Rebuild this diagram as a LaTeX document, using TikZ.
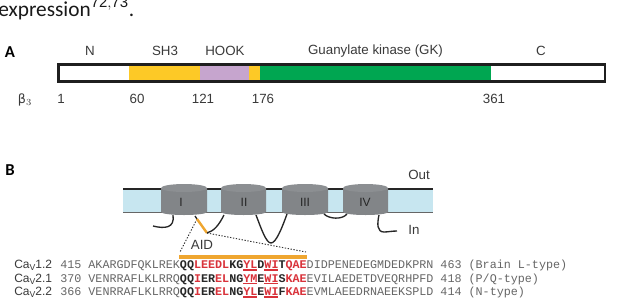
\documentclass[tikz,border=0pt]{standalone}
\usepackage{fontspec}
\setmainfont{Liberation Sans}
\newfontfamily\bodyfont{Carlito}
\newfontfamily\seqfont{Liberation Mono}
\definecolor{labelgrey}{HTML}{3A3A3A}
\definecolor{seqgrey}{HTML}{666666}
\definecolor{seqred}{HTML}{D9323A}
\definecolor{seqdark}{HTML}{262626}
\definecolor{sh3}{HTML}{FDC926}
\definecolor{hook}{HTML}{C6A5CE}
\definecolor{gk}{HTML}{00A651}
\definecolor{membrane}{HTML}{C7E6F0}
\definecolor{barrel}{HTML}{828588}
\definecolor{barreltop}{HTML}{8C8F92}
\definecolor{aid}{HTML}{EFA630}
\newcommand{\px}[1]{\fontsize{#1}{#1}\selectfont}
\newcommand{\gr}[1]{\textcolor{seqgrey}{#1}}
\newcommand{\rd}[1]{\textcolor{seqred}{\bfseries #1}}
\newcommand{\bk}[1]{\textcolor{seqdark}{\bfseries #1}}
\tikzset{
  x=0.75pt,y=-0.75pt,
  lbl/.style={font=\px{10}, text=labelgrey, inner sep=0pt, anchor=center},
  panel/.style={font=\bodyfont\bfseries\px{12.5}, inner sep=0pt},
  seqline/.style={font=\seqfont\px{8.8}, inner sep=0pt, anchor=base west},
  calabel/.style={font=\px{9}, text=labelgrey, inner sep=0pt, anchor=base west},
  loop/.style={draw=black!85, line width=1pt},
  dots/.style={draw=black!80, line width=0.7pt, dash pattern=on 1pt off 1.2pt},
  seqmark/.style={draw=seqred, line width=0.8pt},
}
\newcommand{\barrel}[5]{% x-left, x-right, name, label x, label
  \fill[barrel] (#1,188) -- (#2,188) -- (#2,212) arc[x radius={(#2-#1)/2}, y radius=3, start angle=0, end angle=180] -- cycle;
  \fill[barreltop] (#1,188) arc[x radius={(#2-#1)/2}, y radius=4, start angle=180, end angle=0] arc[x radius={(#2-#1)/2}, y radius=4, start angle=0, end angle=-180] -- cycle;
  \node[lbl, font=\px{9}, text=black!85] (#3) at (#4,202) {#5};
}
\begin{document}
\begin{tikzpicture}
\useasboundingbox (0,0) rectangle (620,304);
\fill[white] (0,0) rectangle (620,304);

% running text above the figure
\begin{scope}
\clip (0,0) rectangle (620,304);
\node[font=\bodyfont\px{16}, anchor=base west, inner sep=0pt, text=black!90] (running) at (-2,16) {expression$^{\mathrm{72,73}}$.};
\end{scope}

% panel A: domain map
\node[panel] (pa) at (10,52) {A};
\fill[sh3] (129,64) rectangle (260,82);
\fill[hook] (200,64) rectangle (249,82);
\fill[gk] (260,64) rectangle (491,82);
\draw[black!88, line width=2.2pt] (58.5,64.5) rectangle (605,81.5);
\foreach \n/\x/\t in {dn/90/N, ds/165/SH3, dh/225/HOOK, dg/375.5/Guanylate kinase (GK), dc/541/C}
  \node[lbl] (\n) at (\x,51) {\t};
\node[lbl] (beta) at (25,100) {\fontspec{DejaVu Sans}\px{9.5}β$_{3}$};
\foreach \n/\x/\t in {a1/61/1, a60/137/60, a121/203/121, a176/263/176, a361/494/361}
  \node[lbl] (\n) at (\x,99) {\t};

% panel B: membrane topology
\node[panel] (pb) at (10,170) {B};
\fill[membrane] (123,189) rectangle (433,212);
\draw[black!85, line width=1.4pt] (123,189) -- (433,189);
\draw[black!60, line width=1pt] (123,212.5) -- (433,212.5);
\barrel{161}{207}{d1}{181}{I}
\barrel{221}{266}{d2}{244}{II}
\barrel{282}{328}{d3}{305}{III}
\barrel{343}{388}{d4}{365}{IV}
\node[lbl] (out) at (419,175) {Out};
\node[lbl] (in) at (414,230) {In};

\coordinate (aidtop) at (195,216);
\coordinate (aidend) at (207,233);
\coordinate (barl) at (179,256.5);
\coordinate (barr) at (307,256.5);
\draw[loop] (153,226) .. controls (165,229) and (175,228) .. (173,215);
\draw[loop] (aidtop) -- (197,219);
\draw[dots] (197,219) -- (180,252);
\draw[dots] (aidend) -- (306,252);
\draw[aid, line width=1.8pt] (197,219) -- (aidend);
\draw[loop] (aidend) .. controls (214,231) and (219,225) .. (224,215);
\draw[loop] (256,215) .. controls (261,228) and (266,243) .. (271,243) .. controls (276,243) and (282,228) .. (287,214);
\draw[loop] (324,214) .. controls (329,219) and (342,220) .. (347,214);
\draw[loop] (379,215) .. controls (377,224) and (377,232) .. (384,232) .. controls (388,232) and (392,231) .. (397,231);
\node[lbl] (aidlabel) at (202,245) {AID};
\draw[aid, line width=3pt] (barl) -- (barr);

% panel B: sequence alignment
\foreach \n/\y/\t in {c1/264/1.2, c2/278/2.1, c3/291/2.2}
  \node[calabel] (\n) at (14,\y+4) {Ca\raisebox{-0.45ex}{\px{6.5}V}\t};
\node[seqline] (s1) at (60,268) {\gr{415 AKARGDFQKLREK}\bk{QQ}\rd{LEEDL}\bk{KG}\rd{YL}\bk{D}\rd{WI}\bk{T}\rd{QAE}\gr{DIDPENEDEGMDEDKPRN  463 (Brain L-type)}};
\node[seqline] (s2) at (60,282) {\gr{370 VENRRAFLKLRRQ}\bk{QQ}\rd{I}\bk{ER}\rd{EL}\bk{NG}\rd{YM}\bk{E}\rd{WI}\bk{S}\rd{KAE}\gr{EVILAEDETDVEQRHPFD  418 (P/Q-type)}};
\node[seqline] (s3) at (60,295) {\gr{366 VENRRAFLKLRRQ}\bk{QQ}\rd{I}\bk{ER}\rd{EL}\bk{NG}\rd{YL}\bk{E}\rd{WI}\bk{F}\rd{KAE}\gr{EVMLAEEDRNAEEKSPLD  414 (N-type)}};
\foreach \y in {270,283.5,297} {
  \draw[seqmark] (243,\y) -- (257,\y);
  \draw[seqmark] (264,\y) -- (278,\y);
}
\end{tikzpicture}
\end{document}
